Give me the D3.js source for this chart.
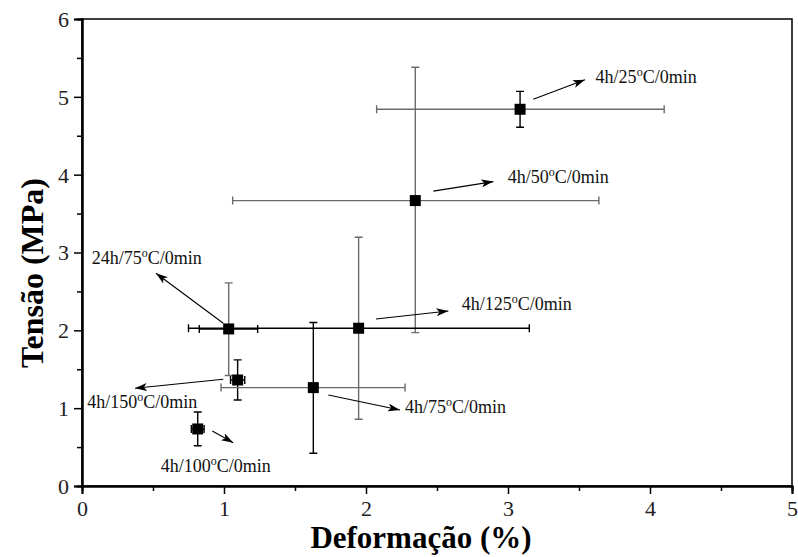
<!DOCTYPE html>
<html>
<head>
<meta charset="utf-8">
<script src="https://cdn.jsdelivr.net/npm/d3@7"></script>
<style>
    body { margin: 0; background: #fff; }
    svg text { font-family: "Liberation Serif", "DejaVu Serif", serif !important; }
</style>
</head>
<body>
<div id="chart"></div>
<script>

// data
let names  = ["4h/25", "4h/50", "4h/125", "24h/75", "4h/150", "4h/75", "4h/100"];
let strain = [3.085, 2.347, 1.948, 1.033, 1.096, 1.629, 0.815];
let stress = [4.84, 3.667, 2.027, 2.018, 1.362, 1.264, 0.733];
let strainErrLo = [1.01, 1.286, 1.198, 0.207, 0.05, 0.65, 0.045];
let strainErrHi = [1.015, 1.293, 1.202, 0.204, 0.05, 0.646, 0.045];
let stressErrLo = [0.23, 1.697, 1.17, 0.598, 0.257, 0.844, 0.215];
let stressErrHi = [0.23, 1.713, 1.169, 0.592, 0.258, 0.836, 0.218];

// annotation arrows: [x0, y0, x1, y1] and label anchor, in data units
let arrows = [
    [3.178, 4.97, 3.542, 5.22],
    [2.474, 3.788, 2.897, 3.911],
    [2.070, 2.146, 2.580, 2.249],
    [0.995, 2.091, 0.521, 2.734],
    [0.995, 1.371, 0.373, 1.256],
    [1.735, 1.170, 2.239, 0.977],
    [0.918, 0.707, 1.065, 0.557]
];
let labelPos = [
    [3.617, 5.18], [2.998, 3.895], [2.674, 2.262], [0.068, 2.853],
    [0.037, 1.006], [2.275, 0.938], [0.554, 0.184]
];

let xTicks = [0, 1, 2, 3, 4, 5];
let yTicks = [0, 1, 2, 3, 4, 5, 6];

// bar colours (horizontal, vertical) per point
let grey = "#6b6b6b";
let barColors = {
    "4h/25":  [grey, "#000"],
    "4h/50":  [grey, grey],
    "4h/125": ["#000", grey],
    "24h/75": ["#000", grey],
    "4h/150": ["#000", "#000"],
    "4h/75":  [grey, "#000"],
    "4h/100": ["#000", "#000"]
};

let W = 798, H = 557;
let margin = {top: 19, right: 6, bottom: 71, left: 82};
let width = W - margin.left - margin.right;
let height = H - margin.top - margin.bottom;
let serif = "'Liberation Serif', 'DejaVu Serif', serif";

let svg = d3.select("#chart").append("svg")
    .attr("width", W)
    .attr("height", H);

let g = svg.append("g")
    .attr("transform", "translate(" + margin.left + "," + margin.top + ")");

let x = d3.scaleLinear().domain([0, 5]).range([0, width]);
let y = d3.scaleLinear().domain([0, 6]).range([height, 0]);

// frame
g.append("rect")
    .attr("width", width)
    .attr("height", height)
    .attr("fill", "none")
    .attr("stroke", "#000")
    .attr("stroke-width", 1.5);

// axes
let xAxis = g.append("g")
    .attr("transform", "translate(0," + height + ")")
    .call(d3.axisBottom(x).tickValues(xTicks).tickSize(8).tickFormat(d3.format("d")));
g.append("g")
    .attr("transform", "translate(0," + height + ")")
    .call(d3.axisBottom(x).tickValues(d3.range(0.5, 5, 1)).tickSize(5).tickFormat(""));

let yAxis = g.append("g")
    .call(d3.axisLeft(y).tickValues(yTicks).tickSize(8).tickFormat(d3.format("d")));
g.append("g")
    .call(d3.axisLeft(y).tickValues(d3.range(0.5, 6, 1)).tickSize(5).tickFormat(""));

g.selectAll(".domain").attr("stroke", "#000").attr("stroke-width", 2);
g.selectAll(".tick line").attr("stroke", "#000").attr("stroke-width", 1.5);
g.selectAll(".tick text")
    .style("font-family", serif)
    .style("font-size", "22px")
    .attr("fill", "#222");
xAxis.selectAll(".tick text").attr("y", 9).attr("dy", "0.95em");
yAxis.selectAll(".tick text").attr("x", -13).attr("dy", "0.34em");

// axis titles
svg.append("text")
    .attr("x", 421)
    .attr("y", 548)
    .attr("text-anchor", "middle")
    .style("font-family", serif)
    .style("font-size", "31px")
    .style("font-weight", "bold")
    .text("Deformação (%)");

svg.append("text")
    .attr("transform", "translate(43,273) rotate(-90)")
    .attr("text-anchor", "middle")
    .style("font-family", serif)
    .style("font-size", "32px")
    .style("font-weight", "bold")
    .text("Tensão (MPa)");

// error bars
let pts = names.map((n, i) => ({
    name: n, x: strain[i], y: stress[i],
    xl: strain[i] - strainErrLo[i], xh: strain[i] + strainErrHi[i],
    yl: stress[i] - stressErrLo[i], yh: stress[i] + stressErrHi[i]
}));

let cap = 4;
pts.forEach(d => {
    let c = barColors[d.name];
    let eb = g.append("g").attr("fill", "none").attr("stroke-width", 1.4);
    // horizontal
    eb.append("path")
        .attr("stroke", c[0])
        .attr("d", "M" + x(d.xl) + "," + y(d.y) + "H" + x(d.xh)
            + "M" + x(d.xl) + "," + (y(d.y) - cap) + "V" + (y(d.y) + cap)
            + "M" + x(d.xh) + "," + (y(d.y) - cap) + "V" + (y(d.y) + cap));
    // vertical
    eb.append("path")
        .attr("stroke", c[1])
        .attr("d", "M" + x(d.x) + "," + y(d.yl) + "V" + y(d.yh)
            + "M" + (x(d.x) - cap) + "," + y(d.yl) + "H" + (x(d.x) + cap)
            + "M" + (x(d.x) - cap) + "," + y(d.yh) + "H" + (x(d.x) + cap));
});

// markers
g.selectAll(".pt")
    .data(pts)
    .enter().append("rect")
    .attr("class", "pt")
    .attr("x", d => x(d.x) - 5.5)
    .attr("y", d => y(d.y) - 5.5)
    .attr("width", 11)
    .attr("height", 11)
    .attr("fill", "#000");

// arrows + labels
svg.append("defs").append("marker")
    .attr("id", "head")
    .attr("viewBox", "0 0 12 8")
    .attr("refX", 12)
    .attr("refY", 4)
    .attr("markerWidth", 12)
    .attr("markerHeight", 8)
    .attr("markerUnits", "userSpaceOnUse")
    .attr("orient", "auto")
    .append("path")
    .attr("d", "M0,0L12,4L0,8L3,4Z")
    .attr("fill", "#000");

arrows.forEach(a => {
    g.append("line")
        .attr("x1", x(a[0])).attr("y1", y(a[1]))
        .attr("x2", x(a[2])).attr("y2", y(a[3]))
        .attr("stroke", "#000")
        .attr("stroke-width", 1.1)
        .attr("marker-end", "url(#head)");
});

names.forEach((n, i) => {
    let parts = n.split("/");
    let t = g.append("text")
        .attr("x", x(labelPos[i][0]))
        .attr("y", y(labelPos[i][1]))
        .style("font-family", serif)
        .style("font-size", "18px")
        .attr("fill", "#111");
    t.append("tspan").text(parts[0] + "/" + parts[1]);
    t.append("tspan").style("font-size", "12px").attr("dy", -7).text("o");
    t.append("tspan").attr("dy", 7).text("C/0min");
});

</script>
</body>
</html>
